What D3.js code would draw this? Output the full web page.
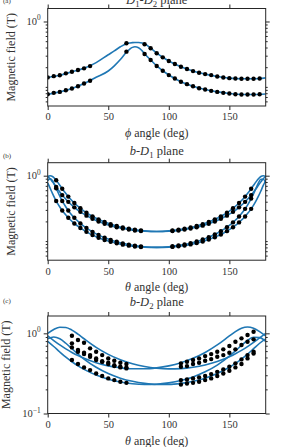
<!DOCTYPE html>
<html>
<head>
<meta charset="utf-8">
<script src="https://cdn.jsdelivr.net/npm/d3@7"></script>
<style>
  body { margin: 0; background: #fff; }
  svg { display: block; }
  text { font-family: "Liberation Serif", "DejaVu Serif", serif; fill: #333; }
</style>
</head>
<body>
<svg id="chart" width="293" height="447"></svg>
<script>
// ---- panel (a): D1-D2 plane, phi scan ----
const phiCurve = [0, 10, 20, 30, 40, 50, 55, 60, 65, 68, 70, 72, 75, 78, 80, 85, 90, 100, 110, 120, 130, 140, 150, 160, 170, 180];
const fitAUpper = [0.1395, 0.151, 0.170, 0.192, 0.235, 0.31, 0.355, 0.41, 0.458, 0.47, 0.475, 0.477, 0.476, 0.468, 0.455, 0.392, 0.328, 0.249, 0.203, 0.1744, 0.1568, 0.1444, 0.136, 0.133, 0.133, 0.1375];
const fitALower = [0.0772, 0.0838, 0.0944, 0.1127, 0.140, 0.175, 0.21, 0.262, 0.338, 0.382, 0.402, 0.41, 0.398, 0.355, 0.322, 0.258, 0.209, 0.152, 0.12, 0.1025, 0.0911, 0.0838, 0.0791, 0.0763, 0.0763, 0.078];

const phiDots = [0, 5, 10, 15, 20, 25, 30, 35, 65, 80, 85, 90, 95, 100, 105, 110, 115, 120, 125, 130, 135, 140, 145, 150, 155, 160, 165, 170, 175];
const dotsAUpper = [0.1395, 0.146, 0.151, 0.161, 0.170, 0.181, 0.192, 0.208, 0.465, 0.449, 0.389, 0.326, 0.283, 0.2486, 0.2235, 0.2033, 0.1872, 0.1744, 0.1644, 0.1568, 0.1514, 0.1444, 0.1394, 0.136, 0.1345, 0.1329, 0.1329, 0.1329, 0.1345];
const dotsALower = [0.0772, 0.081, 0.0838, 0.089, 0.0944, 0.1025, 0.1127, 0.1238, 0.3457, 0.3185, 0.2575, 0.2082, 0.1765, 0.1514, 0.1345, 0.1195, 0.11, 0.1025, 0.0955, 0.0911, 0.0869, 0.0838, 0.081, 0.0791, 0.0772, 0.0763, 0.0763, 0.0763, 0.0772];

// ---- panel (b): b-D1 plane, theta scan ----
const thetaCurveB = [0, 2, 4, 6, 8, 10, 12, 15, 18, 22, 26, 30, 35, 40, 50, 60, 70, 80, 90, 100, 110, 120, 130, 140, 145, 150, 154, 158, 162, 165, 168, 170, 172, 174, 176, 178, 180];
const fitBU1 = [0.971, 1.000, 0.971, 0.897, 0.804, 0.713, 0.631, 0.532, 0.456, 0.382, 0.328, 0.288, 0.251, 0.224, 0.187, 0.164, 0.151, 0.143, 0.140, 0.141, 0.147, 0.158, 0.177, 0.207, 0.229, 0.258, 0.288, 0.328, 0.382, 0.435, 0.505, 0.562, 0.631, 0.713, 0.804, 0.897, 0.971];
const fitBU2 = [0.971, 0.897, 0.804, 0.713, 0.631, 0.562, 0.505, 0.435, 0.382, 0.328, 0.288, 0.258, 0.229, 0.207, 0.177, 0.158, 0.147, 0.141, 0.140, 0.143, 0.151, 0.164, 0.187, 0.224, 0.251, 0.288, 0.328, 0.382, 0.456, 0.532, 0.631, 0.713, 0.804, 0.897, 0.971, 1.000, 0.971];
const fitBL1 = [0.838, 0.900, 0.838, 0.709, 0.584, 0.486, 0.411, 0.332, 0.277, 0.227, 0.193, 0.168, 0.1455, 0.129, 0.1073, 0.0942, 0.0862, 0.0818, 0.0800, 0.0808, 0.0841, 0.0905, 0.1013, 0.119, 0.132, 0.1495, 0.168, 0.193, 0.227, 0.263, 0.311, 0.355, 0.411, 0.486, 0.584, 0.709, 0.838];
const fitBL2 = [0.776, 0.644, 0.532, 0.446, 0.381, 0.332, 0.293, 0.250, 0.2175, 0.186, 0.1629, 0.1455, 0.129, 0.1168, 0.0999, 0.0897, 0.0836, 0.0806, 0.0801, 0.0821, 0.0868, 0.0952, 0.109, 0.132, 0.1495, 0.1736, 0.2004, 0.238, 0.293, 0.355, 0.446, 0.532, 0.644, 0.776, 0.883, 0.883, 0.776];

const thetaDotsB = [7, 12, 17, 22, 27, 32, 37, 42, 47, 52, 57, 62, 67, 72, 77, 103, 108, 113, 118, 123, 128, 133, 138, 143, 148, 153, 158, 163, 168];
const dotsBU1 = [0.851, 0.631, 0.479, 0.382, 0.317, 0.272, 0.239, 0.215, 0.196, 0.1815, 0.170, 0.1611, 0.1541, 0.1488, 0.1448, 0.1426, 0.1455, 0.1497, 0.1554, 0.1628, 0.1722, 0.184, 0.1995, 0.219, 0.245, 0.280, 0.328, 0.398, 0.505];
const dotsBU2 = [0.671, 0.505, 0.398, 0.328, 0.280, 0.245, 0.219, 0.1995, 0.184, 0.1722, 0.1628, 0.1554, 0.1497, 0.1455, 0.1426, 0.1448, 0.1488, 0.1541, 0.1611, 0.170, 0.1815, 0.196, 0.215, 0.239, 0.272, 0.317, 0.382, 0.479, 0.631];
const dotsBL1 = [0.644, 0.411, 0.293, 0.227, 0.186, 0.1581, 0.1384, 0.1238, 0.1127, 0.1041, 0.0975, 0.0923, 0.0882, 0.0851, 0.0828, 0.0815, 0.0832, 0.0856, 0.0889, 0.0932, 0.0987, 0.1057, 0.1147, 0.1264, 0.1418, 0.1629, 0.193, 0.238, 0.311];
const dotsBL2 = [0.411, 0.293, 0.227, 0.186, 0.1581, 0.1384, 0.1238, 0.1127, 0.1041, 0.0975, 0.0923, 0.0882, 0.0851, 0.0828, 0.0812, 0.0832, 0.0856, 0.0889, 0.0932, 0.0987, 0.1057, 0.1147, 0.1264, 0.1418, 0.1629, 0.193, 0.238, 0.311, 0.446];

// ---- panel (c): b-D2 plane, theta scan ----
const thetaCurveC = [0, 5, 10, 15, 20, 25, 30, 40, 50, 60, 70, 80, 90, 100, 110, 120, 130, 140, 150, 155, 160, 165, 170, 175, 180];
const fitC1 = [1.001, 1.119, 1.193, 1.184, 1.097, 0.976, 0.856, 0.668, 0.546, 0.468, 0.417, 0.385, 0.367, 0.360, 0.363, 0.377, 0.403, 0.445, 0.510, 0.556, 0.612, 0.683, 0.772, 0.879, 1.001];
const fitC2 = [0.927, 0.812, 0.716, 0.639, 0.577, 0.527, 0.488, 0.430, 0.393, 0.3715, 0.361, 0.361, 0.3715, 0.393, 0.430, 0.488, 0.577, 0.716, 0.927, 1.051, 1.156, 1.200, 1.156, 1.051, 0.927];
const fitC3 = [0.855, 0.900, 0.855, 0.752, 0.643, 0.550, 0.477, 0.377, 0.315, 0.276, 0.252, 0.2376, 0.2308, 0.2308, 0.2376, 0.252, 0.276, 0.315, 0.377, 0.421, 0.477, 0.550, 0.643, 0.752, 0.855];
const fitC4 = [0.796, 0.685, 0.585, 0.504, 0.442, 0.393, 0.355, 0.302, 0.268, 0.247, 0.2348, 0.2301, 0.232, 0.241, 0.258, 0.286, 0.331, 0.402, 0.519, 0.604, 0.707, 0.817, 0.892, 0.883, 0.796];

const thetaDotsC = [20, 25, 30, 35, 40, 45, 50, 55, 60, 65, 110, 115, 120, 125, 130, 135, 140, 145, 150, 155, 160, 165, 170];
const dotsC1 = [0.933, 0.825, 0.763, 0.65, 0.589, 0.535, 0.487, 0.455, 0.43, 0.414, 0.422, 0.442, 0.464, 0.487, 0.52, 0.551, 0.589, 0.631, 0.694, 0.786, 0.866, 0.952, 1.047];
const dotsC2 = [0.75, 0.619, 0.572, 0.535, 0.487, 0.45, 0.429, 0.401, 0.383, 0.376, 0.383, 0.39, 0.414, 0.43, 0.455, 0.477, 0.51, 0.535, 0.572, 0.631, 0.714, 0.786, 0.841];
const dotsC3 = [0.668, 0.589, 0.551, 0.51, 0.464, 0.44, 0.414, 0.39, 0.376, 0.365, 0.261, 0.266, 0.274, 0.282, 0.293, 0.31, 0.331, 0.355, 0.383, 0.422, 0.473, 0.535, 0.59];
const dotsC4 = [0.464, 0.414, 0.376, 0.348, 0.316, 0.293, 0.274, 0.261, 0.249, 0.241, 0.23, 0.237, 0.241, 0.249, 0.261, 0.274, 0.293, 0.316, 0.341, 0.376, 0.414, 0.487, 0.56];

const xTicks = [0, 50, 100, 150];

const svg = d3.select('#chart');
const plotLeft = 47.7, plotRight = 265.7, plotH = 97.5;
const ink = '#262626';
const fitColor = '#1f77b4';

// write text with italic / sub / superscript pieces
function rich(text, parts) {
    let shift = 0;
    parts.forEach(p => {
        const s = text.append('tspan').text(p.t);
        if (p.i) s.attr('font-style', 'italic');
        let target = 0;
        if (p.sub) { target = p.sub; s.attr('font-size', '70%'); }
        if (p.sup) { target = -p.sup; s.attr('font-size', '70%'); }
        if (target !== shift) { s.attr('dy', target - shift); shift = target; }
    });
    return text;
}

function drawPanel(cfg) {
    const top = cfg.top, bottom = top + plotH;
    const g = svg.append('g');

    const x = d3.scaleLinear().domain([0, 180]).range([plotLeft, plotRight]);
    const y = d3.scaleLog().domain(cfg.yDomain).range([bottom, top]);

    const clipId = 'clip' + cfg.key;
    g.append('clipPath').attr('id', clipId)
        .append('rect')
        .attr('x', plotLeft).attr('y', top)
        .attr('width', plotRight - plotLeft).attr('height', plotH);

    // fits
    const line = d3.line()
        .x(d => x(d[0]))
        .y(d => y(d[1]))
        .curve(d3.curveMonotoneX);

    const fits = g.append('g').attr('clip-path', `url(#${clipId})`);
    cfg.fits.forEach(vals => {
        fits.append('path')
            .datum(cfg.fitX.map((t, i) => [t, vals[i]]))
            .attr('fill', 'none')
            .attr('stroke', fitColor)
            .attr('stroke-width', 1.6)
            .attr('d', line);
    });

    // measured points
    cfg.dots.forEach(vals => {
        fits.append('g').selectAll('circle')
            .data(cfg.dotX.map((t, i) => [t, vals[i]]))
            .join('circle')
            .attr('cx', d => x(d[0]))
            .attr('cy', d => y(d[1]))
            .attr('r', 2.2)
            .attr('fill', '#000');
    });

    // frame
    g.append('rect')
        .attr('x', plotLeft).attr('y', top)
        .attr('width', plotRight - plotLeft).attr('height', plotH)
        .attr('fill', 'none').attr('stroke', ink).attr('stroke-width', 1);

    const styleAxis = a => {
        a.select('.domain').remove();
        a.selectAll('line').attr('stroke', ink);
        a.attr('font-family', '"Liberation Serif", serif').attr('font-size', 10.5);
        a.selectAll('text').attr('fill', '#333');
    };

    g.append('g').attr('transform', `translate(0,${bottom})`)
        .call(d3.axisBottom(x).tickValues(xTicks).tickSize(4).tickPadding(3).tickFormat(d3.format('d')))
        .call(styleAxis);
    g.append('g').attr('transform', `translate(0,${top})`)
        .call(d3.axisTop(x).tickValues(xTicks).tickSize(4).tickFormat(''))
        .call(styleAxis);

    [[d3.axisLeft, plotLeft], [d3.axisRight, plotRight]].forEach(([ax, pos]) => {
        g.append('g').attr('transform', `translate(${pos},0)`)
            .call(ax(y).tickValues(cfg.majors).tickSize(4).tickFormat(''))
            .call(styleAxis);
        g.append('g').attr('transform', `translate(${pos},0)`)
            .call(ax(y).tickValues(cfg.minors).tickSize(2).tickFormat(''))
            .call(styleAxis);
    });

    // major y labels as 10^n
    cfg.labels.forEach(([v, exp]) => {
        rich(g.append('text')
            .attr('x', plotLeft - 7)
            .attr('y', y(v) + 3.5)
            .attr('text-anchor', 'end')
            .attr('font-size', 10.5), [{ t: '10' }, { t: exp, sup: 4.5 }]);
    });

    // y axis title
    g.append('text')
        .attr('transform', 'rotate(-90)')
        .attr('x', -(top + plotH / 2))
        .attr('y', cfg.yLabelX)
        .attr('text-anchor', 'middle')
        .attr('font-size', 12)
        .text('Magnetic field (T)');

    // x axis title
    rich(g.append('text')
        .attr('x', (plotLeft + plotRight) / 2)
        .attr('y', bottom + 31)
        .attr('text-anchor', 'middle')
        .attr('font-size', 12), [{ t: cfg.angle, i: 1 }, { t: ' angle (deg)' }]);

    // panel title
    rich(g.append('text')
        .attr('x', (plotLeft + plotRight) / 2)
        .attr('y', cfg.titleY)
        .attr('text-anchor', 'middle')
        .attr('font-size', 12.5), cfg.title);

    g.append('text')
        .attr('x', 3).attr('y', cfg.tagY)
        .attr('font-size', 7)
        .text(cfg.tag);
}

const minorsAB = [0.06, 0.07, 0.08, 0.09, 0.1, 0.2, 0.3, 0.4, 0.5, 0.6, 0.7, 0.8, 0.9];
const minorsC = [0.2, 0.3, 0.4, 0.5, 0.6, 0.7, 0.8, 0.9];

drawPanel({
    key: 'a', top: 8.5, yDomain: [0.051, 1.58], tag: '(a)', tagY: 2.5, titleY: 4, angle: 'ϕ', yLabelX: 15,
    title: [{ t: 'D', i: 1 }, { t: '1', sub: 3 }, { t: '-' }, { t: 'D', i: 1 }, { t: '2', sub: 3 }, { t: ' plane' }],
    majors: [1], minors: minorsAB, labels: [[1, '0']],
    fitX: phiCurve, fits: [fitAUpper, fitALower],
    dotX: phiDots, dots: [dotsAUpper, dotsALower]
});

drawPanel({
    key: 'b', top: 162.7, yDomain: [0.051, 1.58], tag: '(b)', tagY: 158, titleY: 155, angle: 'θ', yLabelX: 15,
    title: [{ t: 'b', i: 1 }, { t: '-' }, { t: 'D', i: 1 }, { t: '1', sub: 3 }, { t: ' plane' }],
    majors: [1], minors: minorsAB, labels: [[1, '0']],
    fitX: thetaCurveB, fits: [fitBU1, fitBU2, fitBL1, fitBL2],
    dotX: thetaDotsB, dots: [dotsBU1, dotsBU2, dotsBL1, dotsBL2]
});

drawPanel({
    key: 'c', top: 316, yDomain: [0.1, 1.645], tag: '(c)', tagY: 303, titleY: 305.5, angle: 'θ', yLabelX: 9.5,
    title: [{ t: 'b', i: 1 }, { t: '-' }, { t: 'D', i: 1 }, { t: '2', sub: 3 }, { t: ' plane' }],
    majors: [0.1, 1], minors: minorsC, labels: [[1, '0'], [0.1, '−1']],
    fitX: thetaCurveC, fits: [fitC1, fitC2, fitC3, fitC4],
    dotX: thetaDotsC, dots: [dotsC1, dotsC2, dotsC3, dotsC4]
});
</script>
</body>
</html>
